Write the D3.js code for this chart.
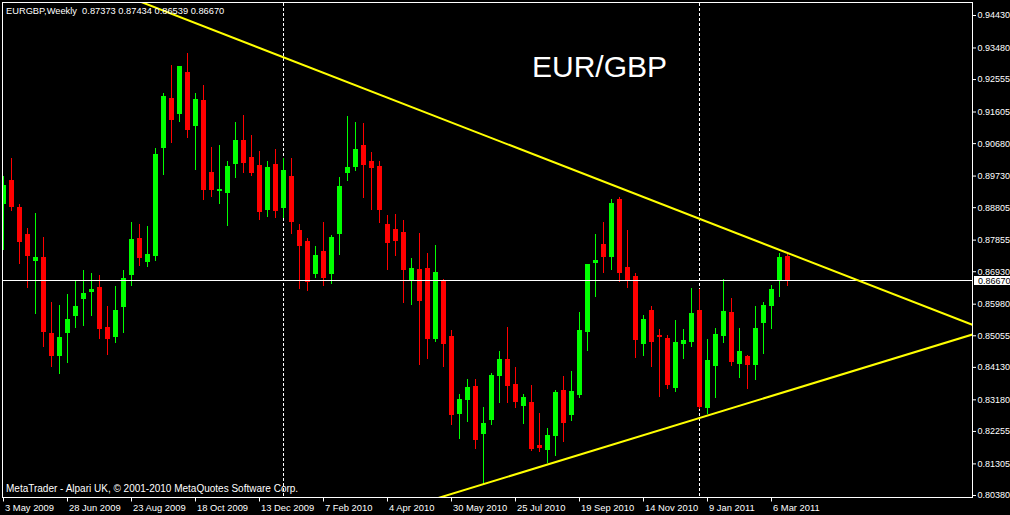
<!DOCTYPE html>
<html><head><meta charset="utf-8">
<script src="https://cdn.jsdelivr.net/npm/d3@7"></script>
<style>html,body{margin:0;padding:0;background:#000;overflow:hidden}</style>
</head><body>
<svg id="chart" width="1010" height="515"></svg>
<script>
// ---------- DATA ----------
const symbol = "EURGBP";
const period = "Weekly";
const title = "EUR/GBP";
const footer = "MetaTrader - Alpari UK, \u00A9 2001-2010 MetaQuotes Software Corp.";

// weekly candles, week 0 = 3 May 2009
const open = [0.88898,0.89600,0.88810,0.88020,0.87229,0.87346,0.85122,0.84448,0.85122,0.85620,
0.86117,0.86322,0.86468,0.85298,0.85005,0.85883,0.86819,0.87903,0.87200,0.87375,
0.90537,0.92000,0.91532,0.92761,0.91181,0.91942,0.89834,0.89278,0.89219,0.90068,
0.90771,0.90273,0.90039,0.88722,0.90068,0.88781,0.89717,0.88137,0.87815,0.86848,
0.87522,0.86848,0.88020,0.89805,0.89980,0.90625,0.90156,0.90010,0.88312,0.88166,
0.88078,0.86673,0.86995,0.87024,0.84946,0.86673,0.85034,0.82751,0.83161,0.83570,
0.82166,0.82576,0.83863,0.84361,0.83629,0.82985,0.83102,0.81844,0.81697,0.82107,
0.83453,0.82722,0.83307,0.85151,0.87170,0.87727,0.87346,0.89044,0.87053,0.86790,
0.84800,0.85795,0.85064,0.84976,0.83512,0.84800,0.84859,0.85795,0.82927,0.84156,
0.85034,0.85737,0.84214,0.84448,0.84185,0.85415,0.85912,0.86673,0.87373];
const high = [0.89717,0.90244,0.88898,0.88195,0.88634,0.87932,0.86029,0.85942,0.86263,0.86673,
0.86966,0.86878,0.86819,0.85912,0.86497,0.86966,0.88371,0.88312,0.88254,0.90537,
0.92146,0.92966,0.92937,0.93317,0.92146,0.92381,0.90566,0.90625,0.90156,0.91298,
0.91503,0.90918,0.90449,0.90156,0.90507,0.90244,0.90244,0.88312,0.87903,0.87669,
0.88371,0.87991,0.89688,0.91474,0.91298,0.91269,0.90419,0.90156,0.88576,0.88605,
0.88430,0.87317,0.88049,0.87463,0.87698,0.86702,0.85210,0.83336,0.83775,0.83775,
0.82956,0.83951,0.84595,0.85298,0.84126,0.83336,0.83600,0.82780,0.82341,0.83453,
0.83863,0.84009,0.85737,0.87141,0.88020,0.88371,0.89044,0.89103,0.88137,0.86878,
0.85649,0.85912,0.85239,0.85064,0.85503,0.85239,0.86439,0.86409,0.84946,0.85268,
0.86702,0.86146,0.85268,0.84478,0.85912,0.86029,0.86527,0.87463,0.87434];
const low = [0.87581,0.88722,0.87170,0.86468,0.85707,0.84742,0.84156,0.83951,0.84273,0.85298,
0.85356,0.85649,0.84976,0.84507,0.84859,0.85151,0.86527,0.87112,0.87083,0.87258,
0.89775,0.90713,0.91327,0.90859,0.89922,0.89044,0.89132,0.88927,0.88283,0.89688,
0.89834,0.89746,0.88459,0.88547,0.88517,0.88517,0.88049,0.86439,0.86380,0.86761,
0.86527,0.86585,0.87434,0.89600,0.89893,0.89102,0.88752,0.88371,0.86995,0.87405,
0.86029,0.85971,0.84214,0.84390,0.84888,0.84156,0.82458,0.82049,0.82546,0.81756,
0.80702,0.82458,0.83102,0.83102,0.82956,0.82488,0.81697,0.81668,0.81346,0.81551,
0.81961,0.82576,0.83248,0.84624,0.86205,0.86907,0.86995,0.86644,0.86468,0.84419,
0.84478,0.84156,0.83278,0.83512,0.83424,0.84390,0.84742,0.82927,0.82780,0.83248,
0.84859,0.84185,0.83834,0.83512,0.83775,0.84536,0.85268,0.86205,0.86539];
const close = [0.89454,0.88810,0.87786,0.87375,0.87346,0.85151,0.84448,0.85005,0.85532,0.85912,
0.86292,0.86409,0.85239,0.84946,0.85795,0.86731,0.87873,0.87317,0.87434,0.90361,
0.92059,0.91357,0.92937,0.91064,0.91971,0.89307,0.89307,0.89336,0.90010,0.90771,
0.90097,0.89805,0.88664,0.89980,0.88693,0.89893,0.88371,0.87669,0.86614,0.87405,
0.86731,0.87932,0.89424,0.89980,0.90507,0.90039,0.89951,0.88722,0.87756,0.87815,
0.86966,0.87024,0.86059,0.84946,0.86907,0.84800,0.82722,0.83190,0.83541,0.81990,
0.82488,0.83892,0.84361,0.83570,0.83102,0.83248,0.81726,0.81756,0.82137,0.83395,
0.82488,0.83424,0.85210,0.87141,0.87258,0.87346,0.88927,0.86878,0.86644,0.84917,
0.85532,0.84859,0.85005,0.83600,0.84859,0.84917,0.85707,0.82956,0.84331,0.85093,
0.85766,0.84273,0.84595,0.84185,0.85268,0.85942,0.86409,0.87360,0.86670];

const xTickWeeks = [0,8,16,24,32,40,48,56,64,72,80,88,96];
const xTickLabels = ["3 May 2009","28 Jun 2009","23 Aug 2009","18 Oct 2009","13 Dec 2009",
  "7 Feb 2010","4 Apr 2010","30 May 2010","25 Jul 2010","19 Sep 2010","14 Nov 2010",
  "9 Jan 2011","6 Mar 2011"];
const yTickValues = [0.94430,0.93480,0.92555,0.91605,0.90680,0.89730,0.88805,0.87855,
  0.86930,0.85980,0.85055,0.84130,0.83180,0.82255,0.81305,0.80380];
const yearStartWeeks = [35, 87];            // 3 Jan 2010, 2 Jan 2011
const upperTrend = [[0, 0.96381], [121.25, 0.85356]];   // [week, price]
const lowerTrend = [[40, 0.79260], [121.25, 0.85084]];

// ---------- LAYOUT ----------
const W = 1010, H = 515;
const plotL = 3, plotR = 973, plotT = 3, plotB = 498;
const bull = "#00ff00", bear = "#ff0000", fg = "#ffffff", trendCol = "#ffff00";
const fontSmall = "'Liberation Sans', Arial, sans-serif";

const svg = d3.select("#chart");
svg.append("rect").attr("width", W).attr("height", H).attr("fill", "#000");

const x = d3.scaleLinear().domain([0, 121.25]).range([plotL, plotR]);
const y = d3.scaleLinear().domain([0.80380, 0.94430]).range([495, 15]);

svg.append("clipPath").attr("id", "plotclip").append("rect")
  .attr("x", plotL).attr("y", plotT).attr("width", plotR - plotL - 1).attr("height", plotB - plotT - 1);

const plot = svg.append("g").attr("clip-path", "url(#plotclip)");

// year separators
plot.selectAll("line.sep").data(yearStartWeeks).enter().append("line")
  .attr("x1", d => Math.round(x(d)) + 0.5).attr("x2", d => Math.round(x(d)) + 0.5)
  .attr("y1", plotT).attr("y2", plotB)
  .attr("stroke", fg).attr("stroke-width", 1).attr("stroke-dasharray", "3,2");

// candles
const candles = open.map((o, i) => ({i, o, h: high[i], l: low[i], c: close[i]}));
const cg = plot.append("g").attr("shape-rendering", "crispEdges");
cg.selectAll("line.wick").data(candles).enter().append("line")
  .attr("x1", d => Math.round(x(d.i)) + 0.5).attr("x2", d => Math.round(x(d.i)) + 0.5)
  .attr("y1", d => Math.round(y(d.h))).attr("y2", d => Math.round(y(d.l)) + 1)
  .attr("stroke", d => d.c >= d.o ? bull : bear).attr("stroke-width", 1);
cg.selectAll("rect.body").data(candles).enter().append("rect")
  .attr("x", d => Math.round(x(d.i)) - 2).attr("width", 5)
  .attr("y", d => Math.round(Math.min(y(d.o), y(d.c))))
  .attr("height", d => Math.max(1, Math.round(Math.abs(y(d.o) - y(d.c)))))
  .attr("fill", d => d.c >= d.o ? bull : bear);

// current price line
const last = close[close.length - 1];
plot.append("line").attr("x1", plotL).attr("x2", plotR)
  .attr("y1", Math.round(y(last)) + 0.5).attr("y2", Math.round(y(last)) + 0.5)
  .attr("stroke", fg).attr("stroke-width", 1);

// trend lines
const tl = d3.line().x(d => x(d[0])).y(d => y(d[1]));
[upperTrend, lowerTrend].forEach(t => {
  plot.append("path").attr("d", tl(t)).attr("fill", "none")
    .attr("stroke", trendCol).attr("stroke-width", 2);
});

// frame
svg.append("rect").attr("x", 2.5).attr("y", 2.5).attr("width", plotR - 3).attr("height", plotB - 3)
  .attr("fill", "none").attr("stroke", fg).attr("stroke-width", 1).attr("shape-rendering", "crispEdges");

// y axis
const yAxis = d3.axisRight(y).tickValues(yTickValues).tickSize(4).tickPadding(1.5)
  .tickFormat(d3.format(".5f"));
const yg = svg.append("g").attr("transform", `translate(${plotR - 1},0)`).call(yAxis);
yg.select(".domain").remove();
yg.selectAll("line").attr("stroke", fg);
yg.selectAll("text").attr("fill", fg).style("font-family", fontSmall).style("font-size", "9px");

// current price label
const ly = Math.round(y(last)) + 0.5;
svg.append("rect").attr("x", 974).attr("y", ly - 4.5).attr("width", 36).attr("height", 9).attr("fill", fg);
svg.append("text").attr("x", 978).attr("y", ly).attr("dy", "0.34em")
  .attr("fill", "#000").style("font-family", fontSmall).style("font-size", "9px")
  .text(d3.format(".5f")(last));

// x axis
const xAxis = d3.axisBottom(x).tickValues(xTickWeeks).tickSize(4).tickPadding(3)
  .tickFormat((d, i) => xTickLabels[i]);
const xg = svg.append("g").attr("transform", `translate(0,${plotB - 0.5})`).call(xAxis);
xg.select(".domain").remove();
xg.selectAll("line").attr("stroke", fg);
xg.selectAll("text").attr("fill", fg).attr("text-anchor", "start").attr("dx", "1.5")
  .style("font-family", fontSmall).style("font-size", "9.4px");

// header
const f5 = d3.format(".5f");
const li = open.length - 1;
svg.append("text").attr("x", 6).attr("y", 14).attr("fill", fg)
  .style("font-family", fontSmall).style("font-size", "9.3px").attr("xml:space", "preserve")
  .text(`${symbol},${period}  ${f5(open[li])} ${f5(high[li])} ${f5(low[li])} ${f5(close[li])}`);

// footer
svg.append("text").attr("x", 6).attr("y", 492).attr("fill", fg)
  .style("font-family", fontSmall).style("font-size", "10px").text(footer);

// title
svg.append("text").attr("x", 532).attr("y", 77).attr("fill", fg)
  .style("font-family", "'Liberation Sans', Arial, sans-serif").style("font-size", "30px")
  .text(title);
</script>
</body></html>
